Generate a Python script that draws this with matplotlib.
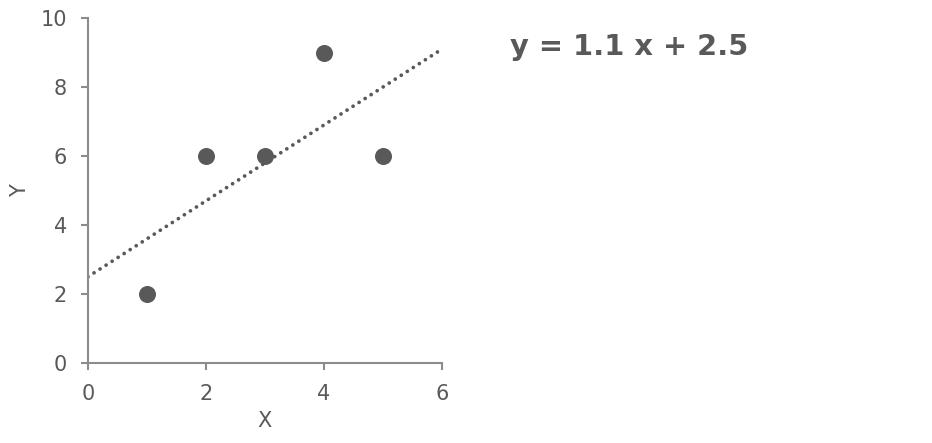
import numpy as np
import matplotlib
matplotlib.use("Agg")
import matplotlib.pyplot as plt

x = [1, 2, 3, 4, 5]
y = [2, 6, 6, 9, 6]
slope = 1.1
intercept = 2.5
xticks = [0, 2, 4, 6]
yticks = [0, 2, 4, 6, 8, 10]

grey = '#595959'
axis_grey = '#8c8c8c'

plt.rcParams['font.family'] = ['DejaVu Sans']

fig = plt.figure(figsize=(9.32, 4.43), dpi=100)
ax = fig.add_axes([88 / 932, 80 / 443, 354 / 932, 345 / 443])

# trend line
tx = np.array([0, 6])
ax.plot(tx, slope * tx + intercept, color=grey, lw=2.7,
        linestyle=(0, (0.01, 1.9)), dash_capstyle='round', zorder=2)
ax.scatter(x, y, s=150, color=grey, zorder=3, linewidths=0)

ax.set_xlim(0, 6)
ax.set_ylim(0, 10)
ax.set_xticks(xticks)
ax.set_yticks(yticks)
for s in ['top', 'right']:
    ax.spines[s].set_visible(False)
for s in ['left', 'bottom']:
    ax.spines[s].set_color(axis_grey)
    ax.spines[s].set_linewidth(1.5)
ax.tick_params(colors=axis_grey, labelcolor=grey, labelsize=15,
               length=5, width=1.5, direction='out', pad=10)
ax.set_xlabel('X', color=grey, fontsize=15, labelpad=5)
ax.set_ylabel('Y', color=grey, fontsize=15, labelpad=8)

fig.text(510 / 932, 1 - 47 / 443, 'y = 1.1 x + 2.5', color=grey,
         fontsize=20.8, fontweight='bold', ha='left', va='center')

fig.savefig('out.png', dpi=100)
